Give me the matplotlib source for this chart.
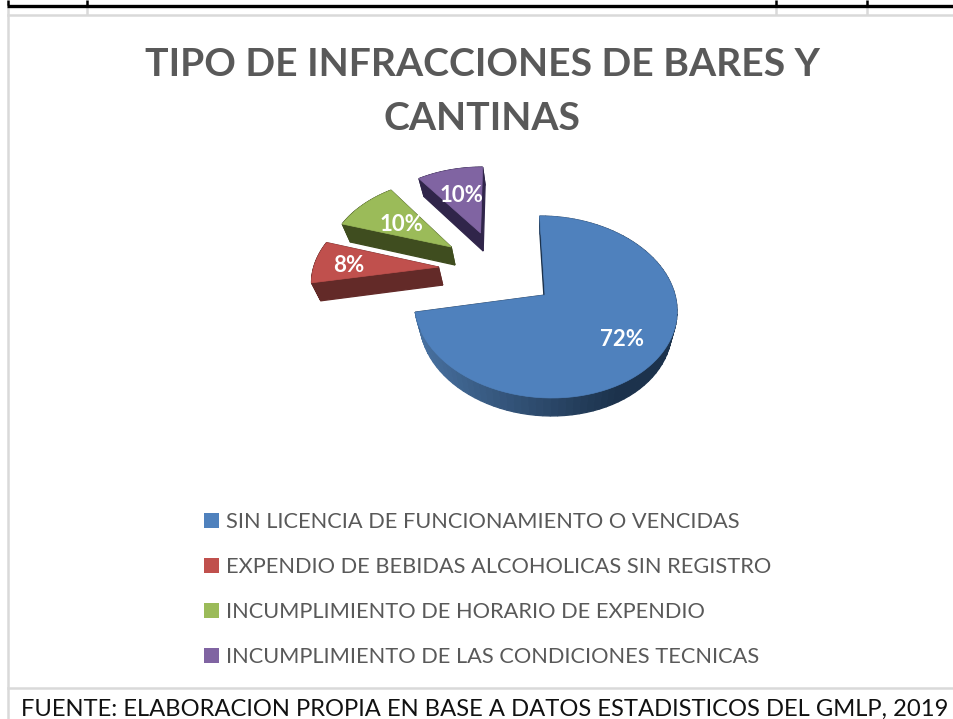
"""
Exploded 3D style pie of bar and cantina infractions, saved to out.png.
"""

import numpy as np
import matplotlib
matplotlib.use('Agg')
import matplotlib.pyplot as plt
from matplotlib.colors import to_rgb
from matplotlib.patches import Patch

# Data
categories = ['SIN LICENCIA DE FUNCIONAMIENTO O VENCIDAS',
              'EXPENDIO DE BEBIDAS ALCOHOLICAS SIN REGISTRO',
              'INCUMPLIMIENTO DE HORARIO DE EXPENDIO',
              'INCUMPLIMIENTO DE LAS CONDICIONES TECNICAS']
values = [72, 8, 10, 10]
percent_labels = ['72%', '8%', '10%', '10%']

# Styles
colors = ['#4f81bd', '#c0504d', '#9bbb59', '#8064a2']
side_colors = ['#1c324c', '#632a28', '#3f4d1f', '#30254a']
offsets = [(0, 0), (-0.84, 0.326), (-0.75, 0.578), (-0.51, 0.763)]
label_r = [0.70, 0.73, 0.55, 0.60]

# Projection of the pie plane onto the page, in pixels
cx, cy = 545, 295
rx, ry = 130, 89.4
persp, skew = 0.132, -6
depth, shrink = 18, 0.96


def project(u, v):
    w = 1 + persp * v
    return cx + (rx * u + skew * v) / w, cy - ry * v / w


fig = plt.figure(figsize=(9.54, 7.19), dpi=100)
ax = fig.add_axes([0, 0, 1, 1])
ax.set_xlim(0, 954)
ax.set_ylim(719, 0)
ax.axis('off')

# Page furniture around the chart
grey = '#d9d9d9'
ax.plot([8, 954], [14.5, 14.5], color=grey, lw=1.8)
ax.plot([8, 954], [688, 688], color=grey, lw=1.8)
ax.plot([8, 8], [5, 719], color=grey, lw=1.8)
for x in [87, 776, 867]:
    ax.plot([x, x], [5, 14], color=grey, lw=1.8)
ax.plot([7, 954], [5.5, 5.5], color='black', lw=2.4, solid_capstyle='butt')
for x in [8, 87, 776, 867]:
    ax.plot([x, x], [0, 5], color='black', lw=1.8, solid_capstyle='butt')

# Slices
fracs = np.array(values) / np.sum(values) * 360
ends = 90 - np.cumsum(fracs)
starts = ends + fracs
blue_left = np.array(to_rgb('#47709f'))
blue_right = np.array(to_rgb(side_colors[0]))

for i in range(len(values)):
    du, dv = offsets[i]
    th = np.radians(np.linspace(starts[i], ends[i], 90))
    us = np.concatenate([[du], du + np.cos(th)])
    vs = np.concatenate([[dv], dv + np.sin(th)])
    xs, ys = project(us, vs)
    xb = cx + (xs - cx) * shrink
    yb = ys + depth

    # side faces, the big slice shaded from left to right
    n = len(xs)
    for j in range(n):
        k = (j + 1) % n
        col = side_colors[i]
        if i == 0 and 0 < j < n - 1:
            t = np.clip((xs[j] - 420) / 200, 0, 1)
            col = tuple(blue_left + (blue_right - blue_left) * t)
        ax.fill([xs[j], xs[k], xb[k], xb[j]], [ys[j], ys[k], yb[k], yb[j]],
                color=col, lw=0.9, zorder=3)
    ax.fill(xs, ys, color=colors[i], lw=0.5, zorder=4)

    mid = np.radians((starts[i] + ends[i]) / 2)
    lx, ly = project(du + label_r[i] * np.cos(mid), dv + label_r[i] * np.sin(mid))
    ax.text(lx, ly + 2, percent_labels[i], color='white', fontsize=16, fontweight='bold',
            family='Lato', ha='center', va='center', zorder=5)

# Title
ax.text(482, 65, 'TIPO DE INFRACCIONES DE BARES Y', color='#595959', fontsize=28.2,
        fontweight='bold', family='Lato', ha='center', va='center')
ax.text(482, 118, 'CANTINAS', color='#595959', fontsize=28.2,
        fontweight='bold', family='Lato', ha='center', va='center')

# Legend
handles = [Patch(facecolor=c, edgecolor='none') for c in colors]
leg = ax.legend(handles, categories, loc='upper left', bbox_to_anchor=(193, 501.5),
                bbox_transform=ax.transData, frameon=False,
                labelcolor='#595959', handlelength=0.69, handleheight=0.69,
                handletextpad=0.32, labelspacing=1.136, borderpad=0.5, borderaxespad=0,
                prop={'family': 'Lato', 'size': 15.7})

# Source line
ax.text(485, 709, 'FUENTE: ELABORACION PROPIA EN BASE A DATOS ESTADISTICOS DEL GMLP, 2019',
        color='#111111', fontsize=17.1, family='Lato', ha='center', va='center')

fig.savefig('out.png', dpi=100)
plt.close(fig)
